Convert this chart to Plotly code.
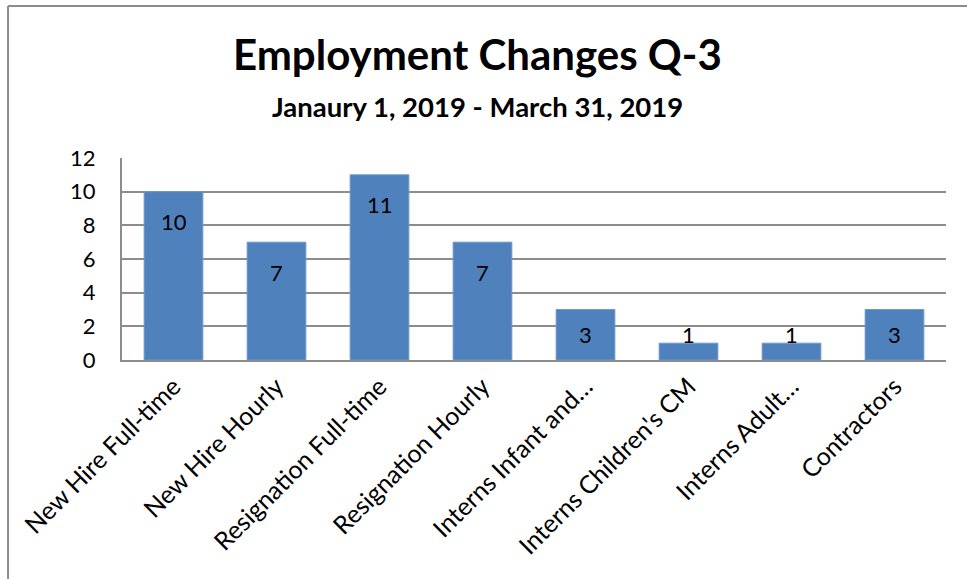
import plotly.graph_objects as go

categories = [
    "New Hire Full-time",
    "New Hire Hourly",
    "Resignation Full-time",
    "Resignation Hourly",
    "Interns Infant and…",
    "Interns Children's CM",
    "Interns Adult…",
    "Contractors",
]
counts = [10, 7, 11, 7, 3, 1, 1, 3]
y_ticks = [0, 2, 4, 6, 8, 10, 12]

FONT = "Lato, 'Open Sans', sans-serif"
BAR_COLOR = "#4F81BD"
GRID_COLOR = "#8C8C8C"

fig = go.Figure(
    go.Bar(
        x=categories,
        y=counts,
        marker=dict(color=BAR_COLOR, line=dict(color="#6E98CC", width=1)),
        width=0.57,
        hoverinfo="x+y",
    )
)

# value labels: near the top inside each bar, clamped low for short bars
for cat, v in zip(categories, counts):
    fig.add_annotation(
        x=cat,
        y=max(v - 1.78, 1.54),
        xref="x",
        yref="y",
        text=str(v),
        showarrow=False,
        font=dict(family=FONT, size=22, color="black"),
        yanchor="middle",
    )

# outer frame (left and top edges)
fig.add_shape(type="line", xref="paper", yref="paper",
              x0=-0.1383, x1=-0.1383, y0=-1.2, y1=1.7525,
              line=dict(color="#8C8C8C", width=2))
fig.add_shape(type="line", xref="paper", yref="paper",
              x0=-0.1383, x1=1.05, y0=1.7525, y1=1.7525,
              line=dict(color="#8C8C8C", width=2))

# title and subtitle, centered on the whole figure width
title_x = (477 - 122) / 824
fig.add_annotation(
    xref="paper", yref="paper", x=title_x, y=(360 - 54) / 202,
    xanchor="center", yanchor="middle", showarrow=False,
    text="<b>Employment Changes Q-3</b>",
    font=dict(family=FONT, size=42, color="black"),
)
fig.add_annotation(
    xref="paper", yref="paper", x=title_x, y=(360 - 106) / 202,
    xanchor="center", yanchor="middle", showarrow=False,
    text="<b>Janaury 1, 2019 - March 31, 2019</b>",
    font=dict(family=FONT, size=27.5, color="black"),
)

fig.update_layout(
    width=967,
    height=579,
    margin=dict(l=122, r=21, t=158, b=219),
    paper_bgcolor="white",
    plot_bgcolor="white",
    showlegend=False,
    font=dict(family=FONT, color="black"),
)
fig.update_xaxes(
    tickangle=-45,
    tickfont=dict(family=FONT, size=25, color="black"),
    showline=True,
    linecolor=GRID_COLOR,
    linewidth=2,
    showgrid=False,
    ticks="",
)
fig.update_yaxes(
    range=[0, 12],
    tickvals=y_ticks,
    tickfont=dict(family=FONT, size=22, color="black"),
    showgrid=True,
    gridcolor=GRID_COLOR,
    gridwidth=2,
    showline=True,
    linecolor=GRID_COLOR,
    linewidth=2,
    zeroline=False,
    ticks="",
    ticklabelstandoff=20,
)

fig.write_html("out.html")
